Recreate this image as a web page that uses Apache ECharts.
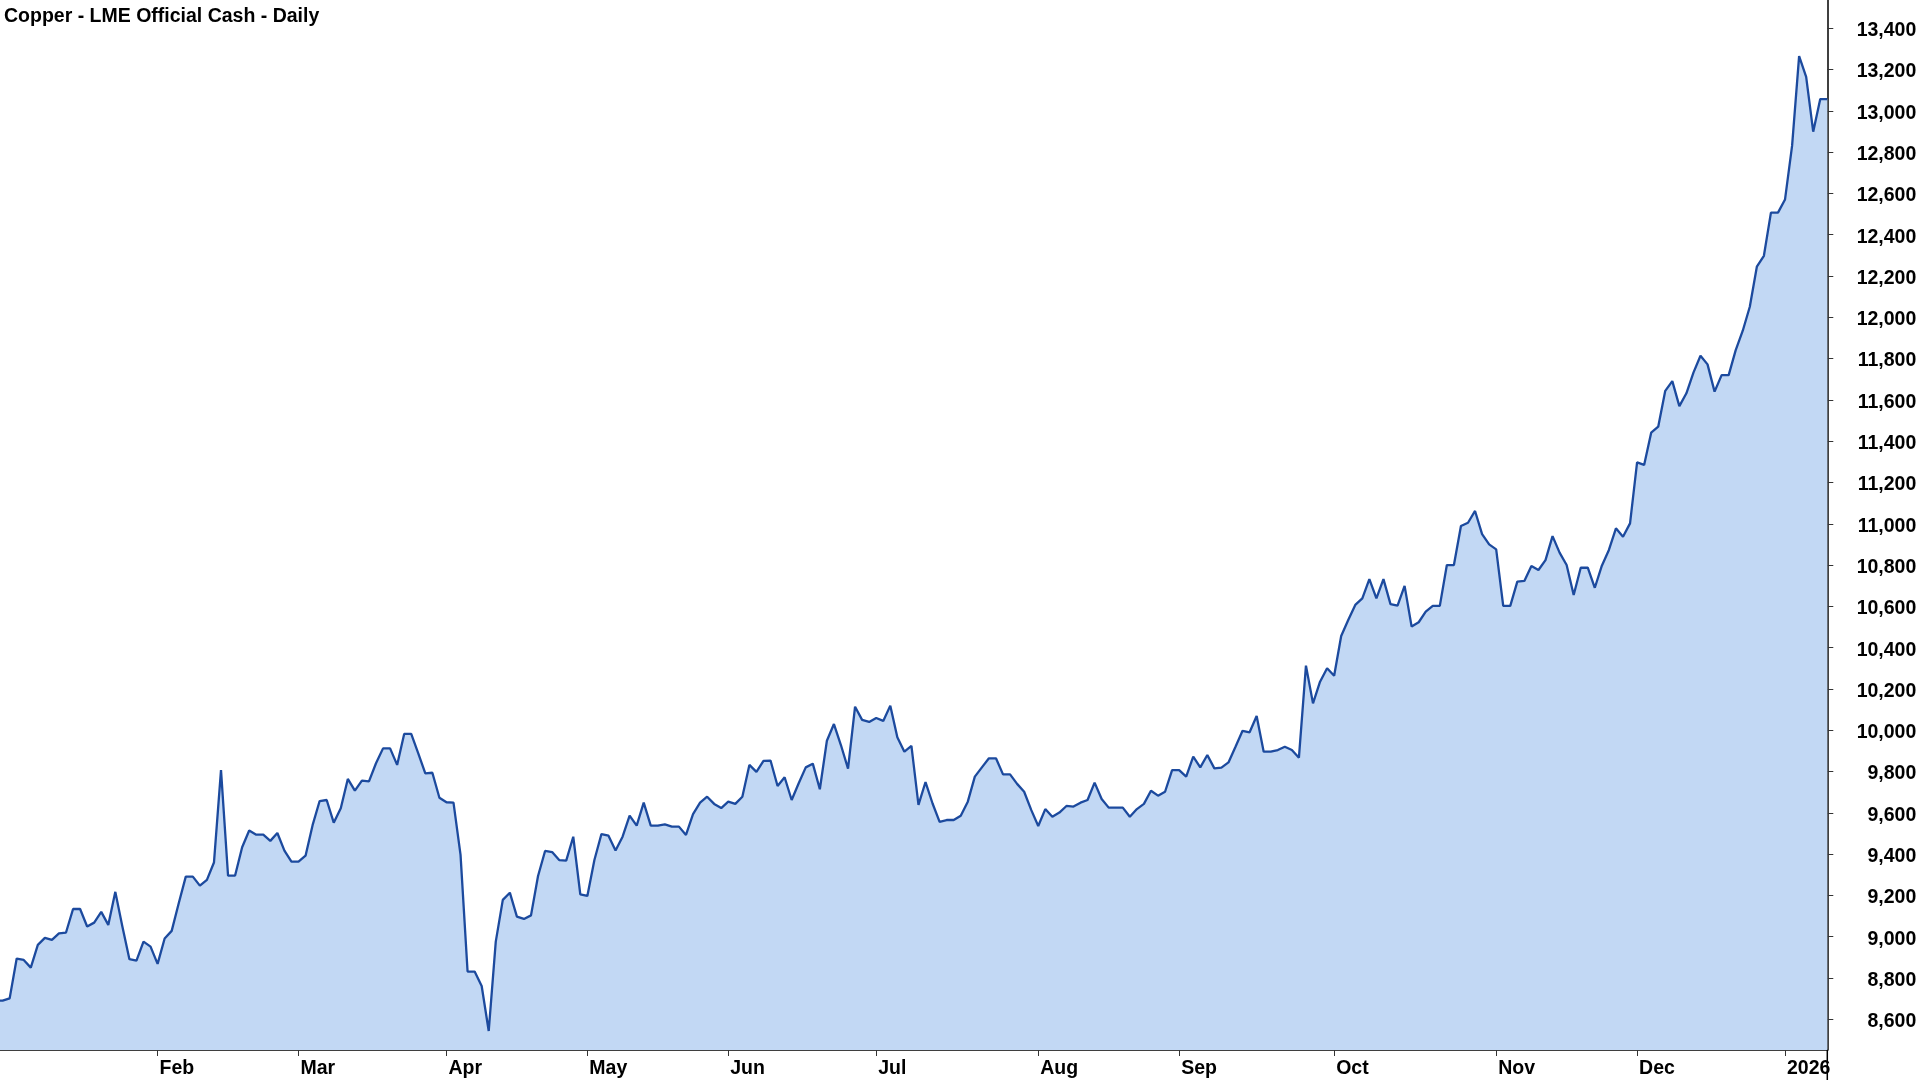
<!DOCTYPE html>
<html>
<head>
<meta charset="utf-8">
<script src="https://cdn.jsdelivr.net/npm/echarts@6/dist/echarts.min.js"></script>
<style>
  html, body { margin: 0; padding: 0; background: #fff; }
  #chart { width: 1920px; height: 1080px; }
</style>
</head>
<body>
<div id="chart"></div>
<script>
// ---- data ----
const titleText = 'Copper - LME Official Cash - Daily';
const startDate = '2024-12-31';
const endDate = '2026-01-12';
const holidays = ['2025-01-01','2025-04-18','2025-04-21','2025-05-05','2025-05-26','2025-08-25','2025-12-25','2025-12-26','2026-01-01'];

// Official cash price (USD/t), one per LME trading day from 2024-12-31
const prices = [
  8690,
  8690, 8701, 8894, 8887, 8850, 8960, 8994, 8984, 9016, 9020,
  9134, 9134, 9049, 9068, 9120, 9057, 9217, 9049, 8891, 8884,
  8976, 8952, 8868, 8991, 9028, 9162, 9291, 9291, 9247, 9275,
  9359, 9807, 9296, 9296, 9433, 9514, 9494, 9494, 9464, 9502,
  9417, 9363, 9363, 9392, 9540, 9657, 9662, 9552, 9622, 9764,
  9707, 9756, 9752, 9840, 9912, 9912, 9832, 9982, 9982, 9888,
  9791, 9794, 9673, 9651, 9649, 9396, 8831, 8831, 8761, 8543,
  8976, 9178, 9213, 9097, 9086, 9103, 9294, 9415, 9410, 9371,
  9368, 9484, 9205, 9197, 9371, 9497, 9489, 9417, 9484, 9586,
  9538, 9649, 9538, 9538, 9544, 9533, 9533, 9493, 9594, 9649,
  9678, 9643, 9623, 9654, 9643, 9678, 9832, 9798, 9851, 9853,
  9730, 9772, 9662, 9743, 9820, 9838, 9714, 9949, 10030, 9927,
  9814, 10114, 10050, 10040, 10059, 10045, 10119, 9966, 9896, 9924,
  9638, 9749, 9645, 9556, 9565, 9565, 9586, 9654, 9775, 9820,
  9864, 9864, 9786, 9786, 9740, 9702, 9614, 9536, 9618, 9581,
  9601, 9633, 9630, 9649, 9662, 9746, 9667, 9625, 9625, 9625,
  9581, 9618, 9643, 9707, 9683, 9702, 9807, 9807, 9775, 9872,
  9820, 9880, 9815, 9819, 9844, 9920, 9997, 9990, 10069, 9896,
  9896, 9904, 9920, 9904, 9867, 10313, 10130, 10235, 10300, 10264,
  10456, 10534, 10607, 10639, 10732, 10639, 10732, 10611, 10603, 10699,
  10502, 10523, 10574, 10602, 10602, 10800, 10800, 10989, 11005, 11062,
  10950, 10900, 10876, 10602, 10602, 10720, 10723, 10795, 10776, 10824,
  10940, 10860, 10800, 10655, 10787, 10787, 10690, 10797, 10873, 10978,
  10937, 11002, 11297, 11285, 11441, 11470, 11644, 11691, 11570, 11632,
  11732, 11814, 11772, 11640, 11720, 11720, 11841, 11935, 12051, 12245,
  12298, 12507, 12507, 12571, 12830, 13265, 13165, 12899, 13057, 13057
];

const tickDates  = ['2025-02-03','2025-03-03','2025-04-01','2025-05-01','2025-06-02','2025-07-01','2025-08-01','2025-09-01','2025-10-01','2025-11-03','2025-12-01','2026-01-02'];
const tickLabels = ['Feb','Mar','Apr','May','Jun','Jul','Aug','Sep','Oct','Nov','Dec','2026'];
const yTicks = [8600, 8800, 9000, 9200, 9400, 9600, 9800, 10000, 10200, 10400, 10600, 10800, 11000, 11200, 11400, 11600, 11800, 12000, 12200, 12400, 12600, 12800, 13000, 13200, 13400];
const yMin = 8451;
const yMax = 13537;

// ---- trading-day categories ----
function fmt(d) {
  const m = String(d.getUTCMonth() + 1).padStart(2, '0');
  const dd = String(d.getUTCDate()).padStart(2, '0');
  return d.getUTCFullYear() + '-' + m + '-' + dd;
}
const dates = [];
for (let d = new Date(startDate + 'T00:00:00Z'); fmt(d) <= endDate; d.setUTCDate(d.getUTCDate() + 1)) {
  const wd = d.getUTCDay();
  const s = fmt(d);
  if (wd === 0 || wd === 6 || holidays.includes(s)) continue;
  dates.push(s);
}

const tickSet = new Set(tickDates);
const labelOf = {};
tickDates.forEach((t, i) => { labelOf[t] = tickLabels[i]; });

const FONT = "'Liberation Sans', Arial, sans-serif";
const W = 1920, H = 1080;
const gridLeft = -4.44, gridRight = 92.7, gridBottom = 30;
const axisX = W - gridRight;
const labelText = { fontFamily: FONT, fontSize: 19.5, fontWeight: 'bold', color: '#000' };

const chart = echarts.init(document.getElementById('chart'), null, { renderer: 'canvas' });
chart.setOption({
  animation: false,
  backgroundColor: '#ffffff',
  title: {
    text: titleText,
    left: 4,
    top: 6.5,
    padding: 0,
    textStyle: labelText
  },
  grid: { left: gridLeft, right: gridRight, top: 0, bottom: gridBottom, containLabel: false, outerBoundsMode: 'none' },
  xAxis: {
    type: 'category',
    data: dates,
    boundaryGap: false,
    axisLine: { show: true, lineStyle: { color: '#000', width: 1.5 } },
    axisTick: {
      show: true,
      length: 6,
      interval: (idx, val) => tickSet.has(val),
      lineStyle: { color: '#333', width: 1 }
    },
    axisLabel: Object.assign({
      show: true,
      interval: (idx, val) => tickSet.has(val),
      formatter: (val) => labelOf[val] || '',
      align: 'left',
      margin: 9,
      padding: [0, 0, 0, 2]
    }, labelText),
    splitLine: { show: false }
  },
  yAxis: {
    type: 'value',
    position: 'right',
    min: yMin,
    max: yMax,
    axisLine: { show: true, lineStyle: { color: '#000', width: 1.5 } },
    axisTick: { show: true, length: 6, customValues: yTicks, lineStyle: { color: '#333', width: 1 } },
    axisLabel: Object.assign({
      show: true,
      customValues: yTicks,
      formatter: (v) => '{v|' + Number(v).toLocaleString('en-US') + '}',
      align: 'right',
      margin: 89,
      rich: { v: Object.assign({ padding: [5, 0, 0, 0] }, labelText) }
    }, labelText),
    splitLine: { show: false }
  },
  graphic: [{
    type: 'line',
    silent: true,
    shape: { x1: axisX, y1: H - gridBottom, x2: axisX, y2: H },
    style: { stroke: '#000', lineWidth: 1.5 }
  }],
  series: [{
    type: 'line',
    data: prices,
    symbol: 'none',
    smooth: false,
    lineStyle: { color: '#1C4A9E', width: 2.3 },
    areaStyle: { color: '#C2D8F4', opacity: 1 },
    z: 2
  }]
});
</script>
</body>
</html>
